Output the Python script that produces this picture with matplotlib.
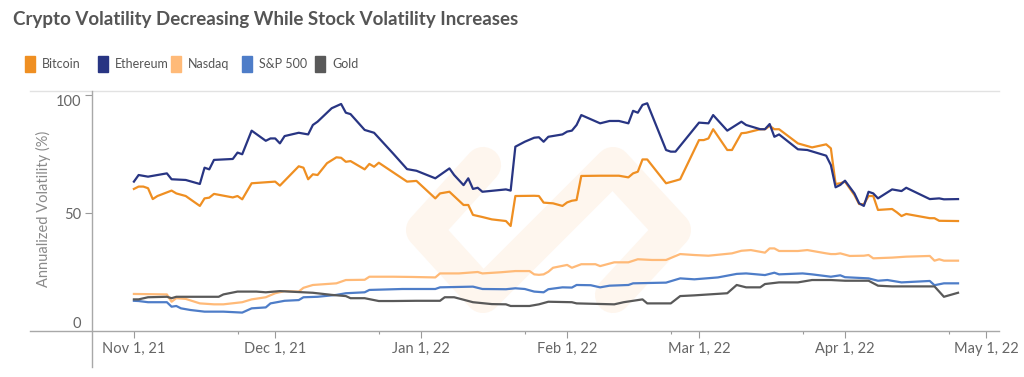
import datetime as dt
import matplotlib
matplotlib.use("Agg")
import matplotlib.pyplot as plt
import matplotlib.dates as mdates
from matplotlib.lines import Line2D
from matplotlib.patches import Rectangle

START = dt.date(2021, 11, 1)

# days since Nov 1, 2021 and annualized volatility (%)
btc_days = [0, 1, 2, 3, 4, 5, 8, 9, 11, 14,
            15, 16, 17, 21, 22, 23, 25, 30, 31, 35,
            36, 37, 38, 39, 41, 43, 44, 45, 46, 49,
            50, 51, 52, 58, 60, 64, 65, 67, 70, 71,
            72, 74, 76, 79, 80, 81, 85, 86, 87, 89,
            91, 92, 93, 94, 95, 99, 103, 105, 106, 107,
            108, 109, 113, 115, 116, 120, 121, 122, 123, 126,
            127, 129, 130, 133, 134, 135, 136, 137, 141, 144,
            147, 148, 149, 150, 151, 153, 154, 155, 156, 157,
            158, 161, 162, 163, 164, 169, 170, 171, 175]
btc_vals = [60.2, 61.2, 61.2, 60.5, 55.9, 57.2, 59.5, 58.3, 57.2, 53.0,
            56.2, 56.5, 58.1, 56.6, 57.2, 55.8, 62.6, 63.3, 61.6, 69.8,
            69.2, 64.3, 66.4, 66.1, 71.1, 73.6, 73.4, 71.7, 72.0, 68.5,
            70.8, 69.6, 71.3, 63.3, 63.6, 56.2, 58.3, 59.0, 53.4, 53.4,
            49.2, 48.3, 47.3, 46.6, 44.5, 57.2, 57.3, 57.2, 54.4, 54.1,
            53.0, 54.5, 55.2, 55.5, 65.7, 65.8, 65.8, 65.1, 66.8, 67.5,
            72.7, 72.7, 62.6, 63.7, 64.3, 80.9, 80.9, 81.6, 85.5, 76.7,
            76.7, 83.8, 84.0, 85.5, 85.5, 86.9, 85.5, 85.5, 79.5, 77.8,
            79.1, 77.4, 62.3, 62.6, 63.3, 57.6, 53.8, 53.7, 57.2, 57.2,
            51.3, 51.7, 50.3, 48.7, 49.6, 47.8, 47.8, 46.7, 46.6]

eth_days = [0, 1, 3, 7, 8, 11, 14, 15, 16, 17,
            21, 22, 23, 25, 28, 29, 30, 31, 32, 35,
            37, 38, 39, 42, 44, 45, 46, 49, 51, 55,
            58, 60, 64, 66, 67, 68, 70, 71, 72, 73,
            74, 79, 80, 81, 83, 85, 86, 87, 88, 91,
            92, 93, 94, 95, 99, 101, 103, 105, 106, 107,
            108, 109, 113, 114, 115, 120, 122, 123, 126, 129,
            130, 133, 134, 135, 136, 137, 141, 143, 147, 148,
            149, 150, 151, 153, 154, 155, 156, 157, 158, 161,
            163, 164, 169, 171, 172, 175]
eth_vals = [63.3, 66.1, 65.4, 66.8, 64.3, 64.0, 62.3, 69.2, 68.5, 72.5,
            72.9, 75.6, 74.9, 84.9, 80.6, 81.6, 81.6, 79.5, 82.6, 84.0,
            83.3, 87.3, 88.7, 94.4, 96.2, 92.5, 91.9, 85.2, 84.0, 75.3,
            68.6, 67.9, 64.7, 67.5, 68.9, 66.1, 61.8, 64.7, 60.2, 60.7,
            59.0, 60.0, 59.5, 78.1, 80.2, 81.9, 82.1, 80.2, 82.3, 83.3,
            84.5, 84.9, 87.3, 91.5, 88.0, 89.0, 89.0, 88.0, 93.3, 92.5,
            95.8, 96.5, 76.7, 76.0, 76.0, 88.3, 88.0, 91.5, 84.9, 88.7,
            87.3, 85.5, 85.5, 87.7, 82.3, 83.3, 77.0, 76.7, 74.3, 70.3,
            60.9, 61.9, 63.7, 58.3, 54.1, 53.0, 59.0, 58.3, 56.2, 60.0,
            59.3, 60.7, 55.9, 56.2, 55.8, 55.9]

ndq_days = [0, 7, 8, 9, 11, 14, 17, 19, 23, 25,
            28, 30, 32, 35, 36, 38, 43, 45, 49, 50,
            55, 59, 64, 65, 69, 73, 74, 78, 81, 84,
            85, 86, 87, 88, 89, 92, 93, 95, 98, 99,
            102, 105, 107, 110, 113, 116, 119, 122, 127, 129,
            131, 134, 135, 136, 137, 141, 143, 147, 148, 149,
            150, 152, 155, 156, 157, 161, 164, 169, 170, 171,
            172, 175]
ndq_vals = [15.7, 15.5, 12.4, 13.9, 13.6, 11.7, 11.3, 11.3, 12.2, 13.4,
            14.3, 16.0, 16.9, 16.7, 18.3, 19.5, 20.2, 21.6, 21.7, 23.0,
            23.0, 22.9, 22.7, 24.4, 24.4, 25.0, 24.4, 24.9, 25.4, 25.4,
            24.0, 23.8, 24.0, 25.1, 26.8, 28.0, 26.8, 28.3, 28.3, 27.5,
            29.1, 29.1, 30.4, 30.1, 30.1, 32.6, 32.2, 31.9, 32.9, 34.0,
            34.3, 33.2, 35.0, 35.0, 33.9, 33.9, 34.3, 32.9, 32.6, 32.6,
            32.9, 31.8, 31.9, 32.2, 30.8, 31.1, 31.5, 31.8, 29.8, 30.4,
            29.8, 29.8]

spx_days = [0, 1, 3, 7, 8, 9, 10, 12, 15, 19,
            23, 25, 28, 29, 32, 35, 36, 39, 43, 45,
            49, 50, 57, 64, 65, 72, 74, 79, 81, 83,
            85, 87, 88, 91, 93, 94, 97, 99, 101, 105,
            106, 113, 116, 119, 124, 128, 130, 134, 136, 137,
            142, 144, 148, 150, 151, 156, 158, 160, 163, 169,
            170, 172, 175]
spx_vals = [12.8, 12.7, 12.2, 12.2, 10.3, 10.6, 9.6, 8.9, 8.2, 8.2,
            7.8, 9.6, 10.0, 11.7, 12.8, 13.1, 14.3, 14.5, 15.3, 16.0,
            16.4, 17.4, 17.8, 17.8, 18.5, 18.8, 17.8, 17.7, 18.1, 17.8,
            16.7, 16.4, 17.7, 18.5, 18.4, 19.5, 19.4, 18.5, 19.2, 19.5,
            20.2, 20.5, 22.3, 21.9, 22.7, 24.2, 24.4, 23.7, 24.7, 24.0,
            24.4, 24.0, 23.0, 23.6, 22.8, 22.3, 21.3, 21.6, 20.6, 21.2,
            19.4, 20.2, 20.2]

gold_days = [0, 1, 3, 7, 8, 9, 18, 19, 22, 26,
             28, 31, 33, 36, 38, 42, 45, 46, 49, 52,
             55, 60, 65, 66, 68, 72, 76, 79, 80, 84,
             86, 88, 93, 94, 102, 104, 108, 109, 114, 116,
             119, 126, 128, 130, 133, 134, 137, 141, 144, 148,
             151, 156, 158, 161, 170, 172, 175]
gold_vals = [13.4, 13.4, 14.3, 14.5, 13.9, 14.5, 14.5, 15.5, 16.7, 16.7,
             16.4, 16.9, 16.7, 16.4, 16.2, 15.3, 14.8, 13.9, 13.9, 12.7,
             12.7, 12.8, 12.8, 14.3, 14.3, 12.2, 11.4, 11.3, 10.6, 10.6,
             11.3, 12.4, 12.2, 11.7, 11.3, 12.2, 13.4, 11.7, 11.7, 14.8,
             15.1, 16.0, 19.5, 18.5, 18.5, 19.9, 20.6, 20.6, 21.6, 21.6,
             21.3, 21.3, 19.2, 18.9, 18.9, 14.5, 16.2]

names = ['Bitcoin', 'Ethereum', 'Nasdaq', 'S&P 500', 'Gold']
colors = ['#EF8F22', '#283583', '#FFBA78', '#4E7DC8', '#595959']
series = [(btc_days, btc_vals), (eth_days, eth_vals), (ndq_days, ndq_vals),
          (spx_days, spx_vals), (gold_days, gold_vals)]

plt.rcParams['font.family'] = ['Lato', 'DejaVu Sans']

W, H = 1024, 377
fig = plt.figure(figsize=(W / 100, H / 100), dpi=100)

# plot area in pixels: left 92, right 999, top 91, bottom 331
L, R, T, B = 92, 999, 91, 331
ax = fig.add_axes([L / W, 1 - B / H, (R - L) / W, (B - T) / H])

x0 = mdates.date2num(START)
ax.set_xlim(x0 - 8.9, x0 + 183.7)
ax.set_ylim(0, 101.7)

# faint logo watermark (axes fraction)
def fx(px):
    return (px - L) / (R - L)

def fy(py):
    return (B - py) / (B - T)

wm = [(483, 165), (424, 230), (483, 295), (613, 165), (673, 230), (613, 295)]
ax.plot([fx(p[0]) for p in wm], [fy(p[1]) for p in wm], transform=ax.transAxes,
        color='#FEF6EE', lw=26, solid_capstyle='round', solid_joinstyle='round',
        zorder=0)

for (d, v), name, c in zip(series, names, colors):
    xs = [START + dt.timedelta(days=k) for k in d]
    ax.plot(xs, v, color=c, lw=1.6, solid_joinstyle='round', zorder=2)

for s in ax.spines.values():
    s.set_visible(False)

ax.xaxis.set_major_locator(mdates.MonthLocator(bymonthday=1))
ax.xaxis.set_minor_locator(mdates.MonthLocator(bymonthday=23))
ax.xaxis.set_major_formatter(mdates.DateFormatter('%b %-d, %y'))
ax.tick_params(axis='x', which='major', length=5, width=0.8, color='#9a9a9a',
               labelsize=10.5, labelcolor='#666666', pad=3)
ax.tick_params(axis='x', which='minor', length=2, width=0.8, color='#9a9a9a')

ax.set_yticks([0, 50, 100])
ax.tick_params(axis='y', length=5, width=0.8, color='#9a9a9a', labelsize=10.5,
               labelcolor='#666666', pad=3)
ylabels = ax.get_yticklabels()
ylabels[0].set_verticalalignment('bottom')
ylabels[2].set_verticalalignment('top')
ax.yaxis.get_major_ticks()[0].tick1line.set_visible(False)

fig.text(43 / W, 1 - 209 / H, 'Annualized Volatility (%)', rotation=90,
         ha='center', va='center', fontsize=10.5, color='#8a8a8a')

# axis frame lines
fig.add_artist(Line2D([30 / W, R / W], [1 - B / H] * 2, color='#a8a8a8', lw=1))
fig.add_artist(Line2D([30 / W, R / W], [1 - T / H] * 2, color='#e2e2e2', lw=1))
fig.add_artist(Line2D([L / W] * 2, [1 - 367 / H, 1 - T / H], color='#a8a8a8', lw=1))

fig.text(12.7 / W, 1 - 19 / H,
         'Crypto Volatility Decreasing While Stock Volatility Increases',
         ha='left', va='center', fontsize=13.5, fontweight='bold', color='#555555')

# legend
sq_x = [25, 97.7, 170.7, 242, 315]
for sx, name, c in zip(sq_x, names, colors):
    fig.add_artist(Rectangle((sx / W, 1 - 72 / H), 10 / W, 16 / H, color=c,
                             transform=fig.transFigure))
    fig.text((sx + 17) / W, 1 - 64 / H, name, ha='left', va='center',
             fontsize=9, color='#555555')

fig.savefig('out.png', dpi=100)
